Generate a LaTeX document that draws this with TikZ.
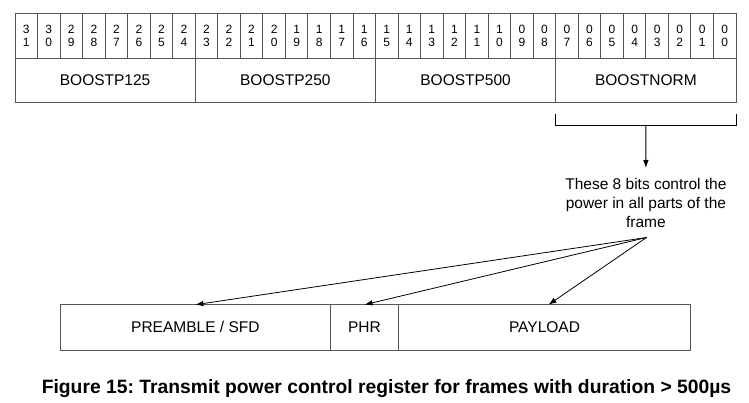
\documentclass[tikz,border=0pt]{standalone}
\usepackage{fontspec}
\setmainfont{Liberation Sans}
\usepackage{xcolor}
\definecolor{boxgray}{RGB}{85,85,85}
\usetikzlibrary{arrows.meta, positioning, calc}
\frenchspacing

\begin{document}
\begin{tikzpicture}[x=1pt, y=-1pt, >={Latex[length=8pt,width=5.5pt]},
    bitcell/.style={draw=boxgray, line width=0.9pt, outer sep=0pt, inner sep=0pt, minimum width=22.53pt, minimum height=44.7pt, align=center, font=\fontsize{12}{13.3}\selectfont},
    fieldbox/.style={draw=boxgray, line width=0.9pt, outer sep=0pt, inner sep=0pt, minimum width=180.25pt, minimum height=44pt, font=\fontsize{15.5}{18}\selectfont},
    framebox/.style={draw=boxgray, line width=0.9pt, outer sep=0pt, inner sep=0pt, minimum height=45.3pt, font=\fontsize{15.5}{18}\selectfont},
    pointer/.style={->, line width=0.8pt}]
    \useasboundingbox (0,0) rectangle (749,403);
    \foreach \i in {0,...,31} {
        \pgfmathtruncatemacro\tens{\i/10}
        \pgfmathtruncatemacro\ones{mod(\i,10)}
        \node[bitcell] (b\i) at ({15+(31-\i)*22.53+11.27}, 35.65) {\tens\\\ones};
    }
    \node[fieldbox] (boost125) at (105.1,80) {BOOSTP125};
    \node[fieldbox, right=0pt of boost125] (boost250) {BOOSTP250};
    \node[fieldbox, right=0pt of boost250] (boost500) {BOOSTP500};
    \node[fieldbox, right=0pt of boost500] (boostnorm) {BOOSTNORM};
    \draw[line width=0.9pt] ($(boostnorm.south west)+(0,12)$) -- ++(0,11) -| ($(boostnorm.south east)+(0,12)$);
    \coordinate (brace) at ($(boostnorm.south)+(0,23)$);
    \node[anchor=north, align=center, inner xsep=2pt, inner ysep=10pt, font=\fontsize{15.5}{19}\selectfont] (note) at (645.9,168) {These 8 bits control the\\power in all parts of the\\frame};
    \draw[pointer] (brace) -- (note.north);
    \coordinate (src) at (646.5,237.5);
    \node[framebox, minimum width=270.7pt] (pre) at (195.35,327.35) {PREAMBLE / SFD};
    \node[framebox, minimum width=67.6pt, right=0pt of pre] (phr) {PHR};
    \node[framebox, minimum width=292.4pt, right=0pt of phr] (payload) {PAYLOAD};
    \draw[pointer] (src) -- (pre.north);
    \draw[pointer] (src) -- (phr.north);
    \draw[pointer] (src) -- ($(payload.north)+(4,0)$);
    \node[anchor=base, font=\bfseries\fontsize{19.3}{22}\selectfont] (caption) at (386.5,393) {Figure 15: Transmit power control register for frames with duration > 500µs};
\end{tikzpicture}
\end{document}
